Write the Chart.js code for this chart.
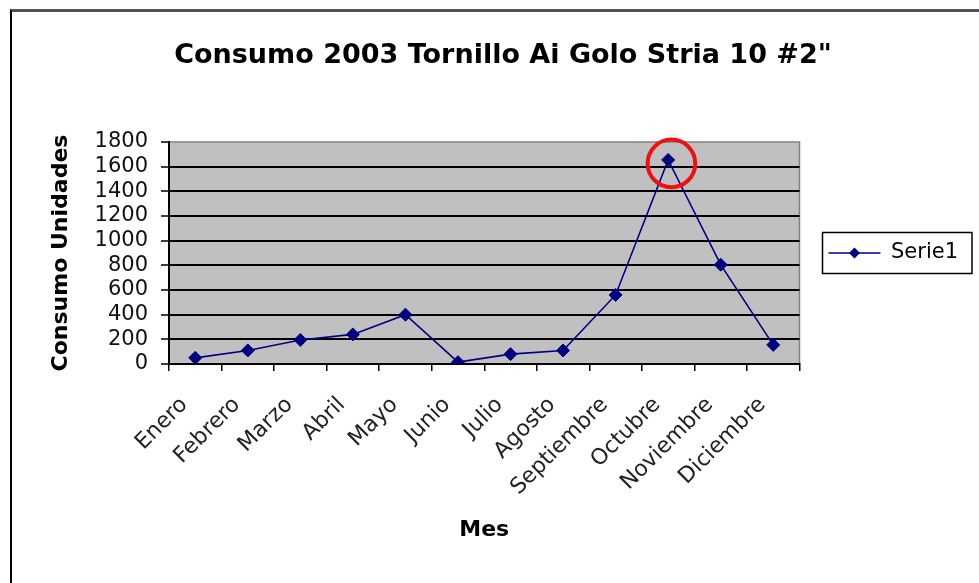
<!DOCTYPE html>
<html>
<head>
<meta charset="utf-8">
<script src="https://cdn.jsdelivr.net/npm/chart.js@4/dist/chart.umd.min.js"></script>
<style>
  html, body { margin: 0; padding: 0; background: #fff; }
  #frame { position: absolute; left: 10px; top: 9px; width: 967px; height: 574px;
    border-top: 3px solid #4d5263; border-left: 2px solid #000; }
  #c { position: absolute; left: 0; top: 0; }
</style>
</head>
<body>
<div id="frame"></div>
<canvas id="c" width="979" height="583"></canvas>
<script>
// data (Excel-style line chart)
const MONTHS = ["Enero", "Febrero", "Marzo", "Abril", "Mayo", "Junio", "Julio",
  "Agosto", "Septiembre", "Octubre", "Noviembre", "Diciembre"];
const SERIE1 = [50, 110, 195, 240, 400, 15, 80, 110, 560, 1655, 805, 155];
const Y_MIN = 0, Y_MAX = 1800, Y_STEP = 200;
const HIGHLIGHT = "Octubre";   // month circled in red

const FONT = "'DejaVu Sans', 'Liberation Sans', Arial, sans-serif";
const NAVY = "#000080";

// grey plot background + thin grey frame (axes redraw left/bottom in black)
const plotBg = {
  id: "plotBg",
  beforeDraw(chart) {
    const { ctx, chartArea: a } = chart;
    ctx.save();
    ctx.fillStyle = "#c0c0c0";
    ctx.fillRect(a.left, a.top, a.right - a.left, a.bottom - a.top);
    ctx.strokeStyle = "#808080"; ctx.lineWidth = 1.5;
    ctx.strokeRect(a.left, a.top, a.right - a.left, a.bottom - a.top);
    ctx.restore();
  }
};

// legend: line + diamond sample and a boxed frame around the built-in legend item
const legendBox = {
  id: "legendBox",
  afterDraw(chart) {
    const lg = chart.legend, hb = lg && lg.legendHitBoxes && lg.legendHitBoxes[0];
    if (!hb) return;
    const { ctx } = chart, bw = lg.options.labels.boxWidth;
    const cy = hb.top + hb.height / 2;
    ctx.save();
    ctx.strokeStyle = "#000"; ctx.lineWidth = 1.5;
    ctx.strokeRect(hb.left - 6, cy - 20.5, hb.width + 20, 41);
    ctx.strokeStyle = NAVY; ctx.lineWidth = 1.5;
    ctx.beginPath(); ctx.moveTo(hb.left, cy); ctx.lineTo(hb.left + bw, cy); ctx.stroke();
    const mx = hb.left + bw / 2, r = 5.5;
    ctx.fillStyle = NAVY;
    ctx.beginPath(); ctx.moveTo(mx, cy - r); ctx.lineTo(mx + r, cy); ctx.lineTo(mx, cy + r); ctx.lineTo(mx - r, cy); ctx.closePath(); ctx.fill();
    ctx.restore();
  }
};

// red ring round the peak month
const ring = {
  id: "ring",
  afterDraw(chart) {
    const i = MONTHS.indexOf(HIGHLIGHT);
    const p = chart.getDatasetMeta(0).data[i];
    if (!p) return;
    const { ctx } = chart;
    ctx.save();
    ctx.strokeStyle = "#ee1111"; ctx.lineWidth = 4;
    ctx.beginPath(); ctx.arc(p.x + 3.3, p.y + 3.5, 23.8, 0, Math.PI * 2); ctx.stroke();
    ctx.restore();
  }
};

new Chart(document.getElementById("c"), {
  type: "line",
  data: { labels: MONTHS, datasets: [{
    label: "Serie1", data: SERIE1, borderColor: NAVY, backgroundColor: NAVY,
    borderWidth: 1.6, tension: 0, pointStyle: "rectRot", pointRadius: 6.5,
    pointBackgroundColor: NAVY, pointBorderColor: NAVY, pointBorderWidth: 1 }] },
  options: {
    responsive: false, animation: false, devicePixelRatio: 1,
    layout: { padding: { left: 38, right: 11, top: 0, bottom: 0 } },
    plugins: {
      title: { display: true, text: "Consumo 2003 Tornillo Ai Golo Stria 10 #2\"",
        color: "#000", font: { family: FONT, size: 27, weight: "bold", lineHeight: 1.2 },
        padding: { top: 40, bottom: 69.6 } },
      legend: { position: "right", fullSize: false, align: "center",
        labels: { boxWidth: 52, boxHeight: 12, padding: 29, color: "#000",
          font: { family: FONT, size: 21 },
          generateLabels: ch => ch.data.datasets.map((d, i) => ({ text: d.label, datasetIndex: i,
            fillStyle: "rgba(0,0,0,0)", strokeStyle: "rgba(0,0,0,0)", lineWidth: 0, fontColor: "#000" })) } },
      tooltip: { enabled: false }
    },
    scales: {
      x: { type: "category", offset: true,
        grid: { offset: true, drawOnChartArea: false, drawTicks: true, tickLength: 7, color: "#000", lineWidth: 1.5 },
        border: { display: true, color: "#000", width: 2 },
        ticks: { autoSkip: false, minRotation: 45, maxRotation: 45, padding: 21, labelOffset: -11,
          color: "#222", font: { family: FONT, size: 22 } },
        title: { display: true, text: "Mes", color: "#000", font: { family: FONT, size: 22, weight: "bold", lineHeight: 1.2 },
          padding: { top: 0, bottom: 40 } },
        afterFit(s) { s.height = 219; } },
      y: { min: Y_MIN, max: Y_MAX,
        grid: { color: c => c.tick && c.tick.value === Y_MAX ? "rgba(0,0,0,0)" : "#000", lineWidth: 2,
          tickColor: "#000", tickLength: 8, tickWidth: 1.5 },
        border: { display: true, color: "#000", width: 2 },
        ticks: { stepSize: Y_STEP, autoSkip: false, padding: 13, color: "#111",
          font: { family: FONT, size: 21, lineHeight: 1 }, callback: v => String(v) },
        title: { display: true, text: "Consumo Unidades", color: "#000",
          font: { family: FONT, size: 22, weight: "bold", lineHeight: 1.2 }, padding: { top: 9.8, bottom: 0 } },
        afterFit(s) { s.width = 131; } }
    }
  },
  plugins: [plotBg, legendBox, ring]
});
</script>
</body>
</html>
